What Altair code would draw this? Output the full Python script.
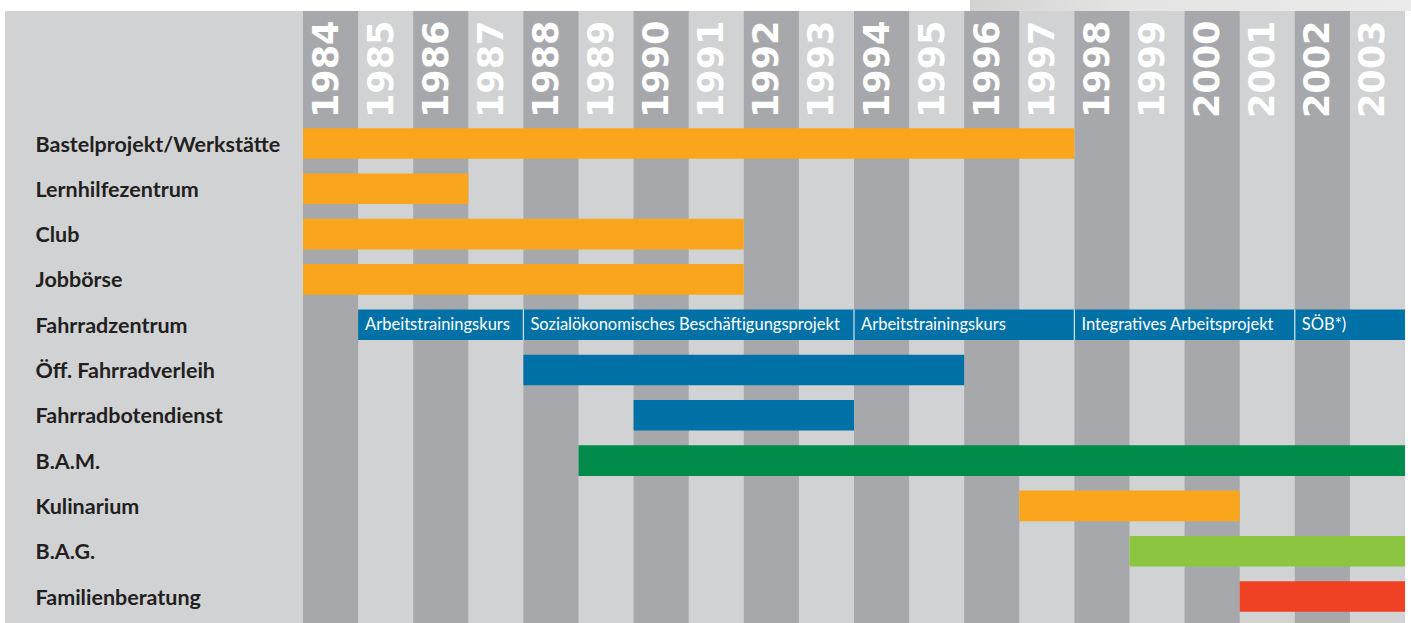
import altair as alt
import pandas as pd

# ---------------- data ----------------
rows = ["Bastelprojekt/Werkstätte", "Lernhilfezentrum", "Club", "Jobbörse",
        "Fahrradzentrum", "Öff. Fahrradverleih", "Fahrradbotendienst", "B.A.M.",
        "Kulinarium", "B.A.G.", "Familienberatung"]
years = list(range(1984, 2004))

bar_rows = ["Bastelprojekt/Werkstätte", "Lernhilfezentrum", "Club", "Jobbörse",
            "Öff. Fahrradverleih", "Fahrradbotendienst", "B.A.M.",
            "Kulinarium", "B.A.G.", "Familienberatung"]
bar_start = [1984, 1984, 1984, 1984, 1988, 1990, 1989, 1997, 1999, 2001]
bar_end = [1998, 1987, 1992, 1992, 1996, 1994, 2004, 2001, 2004, 2004]
bar_color = ["#f9a61c", "#f9a61c", "#f9a61c", "#f9a61c", "#0071a6", "#0071a6",
             "#008b4b", "#f9a61c", "#8cc53f", "#ef4123"]

seg_labels = ["Arbeitstrainingskurs", "Sozialökonomisches Beschäftigungsprojekt",
              "Arbeitstrainingskurs", "Integratives Arbeitsprojekt", "SÖB*)"]
seg_start = [1985, 1988, 1994, 1998, 2002]
seg_end = [1988, 1994, 1998, 2002, 2004]

# ---------------- layout helpers ----------------
W, H = 1411, 623
PX_PER_YEAR = 55.1
X0 = 1984 - 303 / PX_PER_YEAR
X1 = 1984 + (W - 303) / PX_PER_YEAR
ROW_PX = 45.3
Y_TOP = -143.5 / ROW_PX
Y_BOT = (H - 143.5) / ROW_PX
HALF = 15.3 / ROW_PX
PANEL_LEFT = X0 + 5 / PX_PER_YEAR
PANEL_TOP = Y_TOP + 11 / ROW_PX
HEADER_BASE = (118 - 143.5) / ROW_PX

xs = alt.Scale(domain=[X0, X1], nice=False, zero=False)
ys = alt.Scale(domain=[Y_TOP, Y_BOT], nice=False, zero=False, reverse=True)
label_expr = "[" + ",".join("'" + r + "'" for r in rows) + "][datum.value]"
yaxis = alt.Axis(values=list(range(len(rows))), labelExpr=label_expr, title=None,
                 ticks=False, domain=False, grid=False, labelAlign="left",
                 labelPadding=-35, labelFont="Lato", labelFontWeight="bold",
                 labelFontSize=21.5, labelColor="#231f20", labelBaseline="middle",
                 labelOffset=1.5, labelLimit=0, zindex=1)


def X(f):
    return alt.X(f + ":Q", scale=xs, axis=None)


def Y(f):
    return alt.Y(f + ":Q", scale=ys, axis=yaxis)


# panel background
panel = pd.DataFrame({"x": [PANEL_LEFT], "x2": [2004.0], "y": [PANEL_TOP], "y2": [Y_BOT]})
panel_layer = alt.Chart(panel).mark_rect(color="#d1d2d4").encode(
    x=X("x"), x2="x2", y=Y("y"), y2="y2")

# top-right gradient strip
strip = pd.DataFrame({"x": [1984 + (970 - 303) / PX_PER_YEAR], "x2": [X1],
                      "y": [Y_TOP], "y2": [PANEL_TOP]})
strip_layer = alt.Chart(strip).mark_rect(
    color=alt.LinearGradient(gradient="linear", x1=0, x2=1, y1=0, y2=0,
                             stops=[alt.GradientStop(offset=0, color="#d3d3d3"),
                                    alt.GradientStop(offset=0.35, color="#e4e4e4"),
                                    alt.GradientStop(offset=1, color="#ebebeb")])
).encode(x=X("x"), x2="x2", y=Y("y"), y2="y2")

# dark columns (every other year)
cols = pd.DataFrame({"year": years})
col_layer = alt.Chart(cols).transform_filter(
    "(datum.year - 1984) % 2 == 0"
).transform_calculate(
    x2="datum.year + 1", y=str(PANEL_TOP), y2=str(Y_BOT)
).mark_rect(color="#a7a8ab").encode(x=X("year"), x2="x2", y=Y("y"), y2="y2")

# year header text
head_layer = alt.Chart(cols).transform_calculate(
    xc="datum.year + 0.5", y=str(HEADER_BASE), label="'' + datum.year"
).mark_text(angle=270, align="left", baseline="middle", font="DejaVu Sans",
            fontWeight="bold", fontSize=35, color="white", dy=-4).encode(
    x=X("xc"), y=Y("y"), text="label:N")

# bars
bars = pd.DataFrame({"name": bar_rows, "start": bar_start, "end": bar_end, "color": bar_color})
bars["row"] = [rows.index(n) for n in bar_rows]
bar_layer = alt.Chart(bars).transform_calculate(
    y=f"datum.row - {HALF}", y2=f"datum.row + {HALF}"
).mark_rect().encode(x=X("start"), x2="end", y=Y("y"), y2="y2",
                     color=alt.Color("color:N", scale=None))

# Fahrradzentrum segments
fz_row = rows.index("Fahrradzentrum")
segs = pd.DataFrame({"label": seg_labels, "start": seg_start, "end": seg_end})
segs["row"] = fz_row
seg_layer = alt.Chart(segs).transform_calculate(
    y=f"datum.row - {HALF}", y2=f"datum.row + {HALF}"
).mark_rect(color="#0071a6").encode(x=X("start"), x2="end", y=Y("y"), y2="y2")

sep_layer = alt.Chart(segs).transform_filter("datum.start > 1985").transform_calculate(
    y=f"datum.row - {HALF}", y2=f"datum.row + {HALF}"
).mark_rule(color="#d6e6f0", strokeWidth=1.2).encode(x=X("start"), y=Y("y"), y2="y2")

seg_text = alt.Chart(segs).mark_text(
    align="left", baseline="middle", font="Lato", fontSize=16.5, color="white", dx=7
).encode(x=X("start"), y=Y("row"), text="label:N")

chart = alt.layer(
    panel_layer, strip_layer, col_layer, head_layer, bar_layer, seg_layer, sep_layer, seg_text
).properties(
    width=W, height=H, autosize=alt.AutoSizeParams(type="none"), padding=0,
    background="white"
).configure_view(stroke=None)

chart.save("out.html", embed_options={"renderer": "svg", "actions": False})
